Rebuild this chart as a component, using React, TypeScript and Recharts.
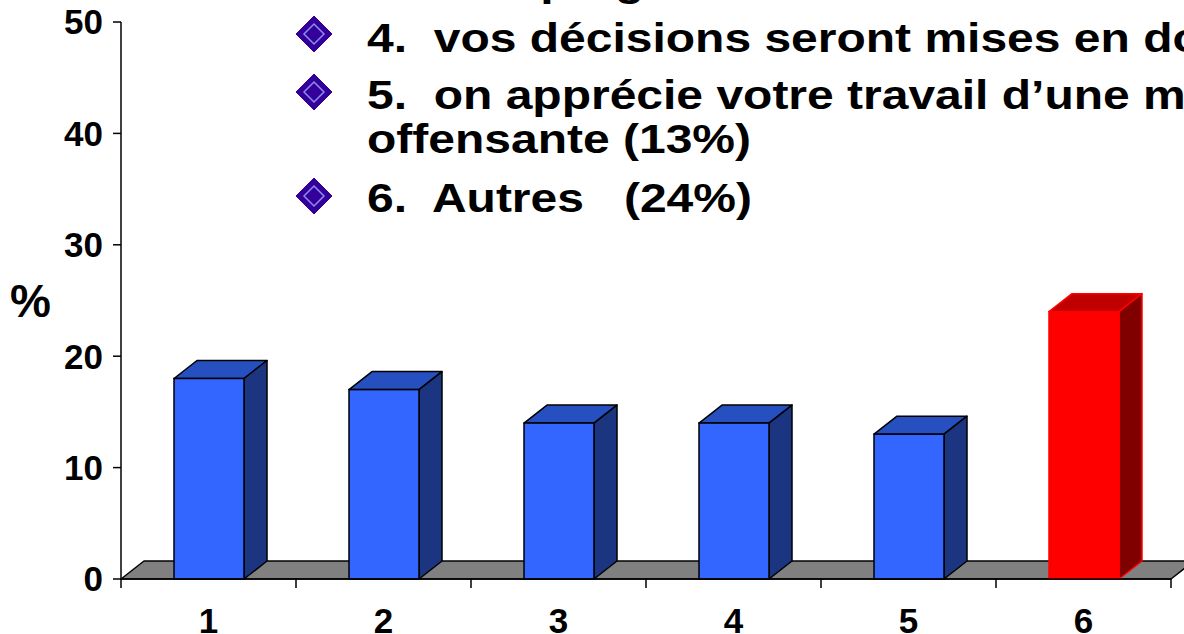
import React from "react";
import { BarChart, Bar, XAxis, YAxis, ReferenceArea, Label } from "recharts";

// chart values
const categories = ["1", "2", "3", "4", "5", "6"];
const percentages = [18, 17, 14, 14, 13, 24];
const yTicks = [0, 10, 20, 30, 40, 50];
const highlightIndex = 5;

// bullet text that sits over the top of the chart (cut off at the right edge)
const partialLine = "votre épargne";
const bulletLines = [
  "4.  vos décisions seront mises en doute (14%)",
  "5.  on apprécie votre travail d\u2019une manière",
  "6.  Autres   (24%)",
];
const continuationLine = "offensante (13%)";

const FONT = "'Liberation Sans', Arial, Helvetica, sans-serif";
const DEPTH_X = 23;
const DEPTH_Y = 18;

const blueFaces = { front: "#3366ff", top: "#2650c0", side: "#1b3580", stroke: "#000000" };
const redFaces = { front: "#ff0000", top: "#c00000", side: "#800000", stroke: "#ff0000" };

const chartData = categories.map(function (c, i) {
  return { cat: c, value: percentages[i] };
});

function Bar3D(props: any) {
  var x = props.x, y = props.y, w = props.width, h = props.height;
  if (x == null || y == null || !w || h == null) return null;
  var c = props.index === highlightIndex ? redFaces : blueFaces;
  var dx = DEPTH_X, dy = DEPTH_Y;
  var top = [[x, y], [x + dx, y - dy], [x + w + dx, y - dy], [x + w, y]];
  var side = [[x + w, y], [x + w + dx, y - dy], [x + w + dx, y + h - dy], [x + w, y + h]];
  var pts = function (p: number[][]) { return p.map(function (q) { return q[0] + "," + q[1]; }).join(" "); };
  return (
    <g>
      <polygon points={pts(top)} fill={c.top} stroke={c.stroke} strokeWidth={1.5} strokeLinejoin="round" />
      <polygon points={pts(side)} fill={c.side} stroke={c.stroke} strokeWidth={1.5} strokeLinejoin="round" />
      <rect x={x} y={y} width={w} height={h} fill={c.front} stroke={c.stroke} strokeWidth={1.5} />
    </g>
  );
}

// gray 3D floor under the bars, drawn from the zero line across the plot
function Floor(props: any) {
  var x = props.x, w = props.width;
  var base = props.y + (props.height || 0);
  var p = [[x, base], [x + DEPTH_X, base - DEPTH_Y], [x + w + DEPTH_X, base - DEPTH_Y], [x + w, base]];
  return (
    <polygon
      points={p.map(function (q) { return q[0] + "," + q[1]; }).join(" ")}
      fill="#808080"
      stroke="#000000"
      strokeWidth={1.5}
      strokeLinejoin="round"
    />
  );
}

// category label in the middle of the band, tick marks on the band edges
function CategoryTick(props: any) {
  var x = props.x, y = props.y, payload = props.payload;
  var half = payload && payload.offset ? payload.offset : 87.5;
  var isLast = props.index === categories.length - 1;
  return (
    <g>
      <line x1={x - half} y1={y} x2={x - half} y2={y + 9} stroke="#000" strokeWidth={1.5} />
      {isLast && <line x1={x + half} y1={y} x2={x + half} y2={y + 9} stroke="#000" strokeWidth={1.5} />}
      <text x={x} y={y + 54} textAnchor="middle" fontFamily={FONT} fontWeight="bold" fontSize={35} fill="#000">
        {payload.value}
      </text>
    </g>
  );
}

function Diamond({ cx, cy }: { cx: number; cy: number }) {
  var r = 18;
  var ri = 10;
  return (
    <g>
      <polygon
        points={`${cx},${cy - r} ${cx + r},${cy} ${cx},${cy + r} ${cx - r},${cy}`}
        fill="#330099"
        stroke="#330099"
        strokeWidth={1}
        strokeLinejoin="round"
      />
      <polygon
        points={`${cx},${cy - ri} ${cx + ri},${cy} ${cx},${cy + ri} ${cx - ri},${cy}`}
        fill="none"
        stroke="#8c8cf0"
        strokeWidth={1.5}
      />
    </g>
  );
}

function TextLine({ x, y, text }: { x: number; y: number; text: string }) {
  return (
    <text
      transform={"translate(" + x + "," + y + ") scale(1.2,1)"}
      fontFamily={FONT}
      fontWeight="bold"
      fontSize={40}
      fill="#000"
      style={{ whiteSpace: "pre" }}
    >
      {text}
    </text>
  );
}

export default function App() {
  return (
    <div style={{ position: "absolute", left: 0, top: 0, width: 1184, height: 634, overflow: "hidden", background: "#fff" }}>
      <BarChart
        width={1184}
        height={634}
        data={chartData}
        margin={{ top: 22, right: 13, bottom: 0, left: 0 }}
        barCategoryGap={0}
      >
        <XAxis
          dataKey="cat"
          height={55}
          tickLine={false}
          tickSize={0}
          tickMargin={0}
          axisLine={{ stroke: "#000", strokeWidth: 1.5 }}
          tick={<CategoryTick />}
          interval={0}
        />
        <YAxis
          domain={[0, 50]}
          ticks={yTicks}
          width={121}
          tickSize={8}
          tickMargin={10}
          axisLine={{ stroke: "#000", strokeWidth: 1.5 }}
          tickLine={{ stroke: "#000", strokeWidth: 1.5 }}
          tick={{ fill: "#000", fontSize: 35, fontWeight: "bold", fontFamily: FONT }}
        >
          <Label
            value="%"
            position="insideLeft"
            offset={10}
            angle={0}
            style={{ fill: "#000", fontSize: 46, fontWeight: "bold", fontFamily: FONT }}
          />
        </YAxis>
        <ReferenceArea y1={0} y2={0} shape={<Floor />} ifOverflow="visible" />
        <Bar dataKey="value" barSize={70} shape={<Bar3D />} isAnimationActive={false} />
      </BarChart>
      <svg width={1184} height={634} style={{ position: "absolute", left: 0, top: 0, pointerEvents: "none" }}>
        <TextLine x={383} y={-4} text={partialLine} />
        <Diamond cx={314} cy={34} />
        <TextLine x={367} y={52} text={bulletLines[0]} />
        <Diamond cx={314} cy={92} />
        <TextLine x={367} y={109} text={bulletLines[1]} />
        <TextLine x={367} y={153} text={continuationLine} />
        <Diamond cx={314} cy={196} />
        <TextLine x={367} y={212} text={bulletLines[2]} />
      </svg>
    </div>
  );
}
